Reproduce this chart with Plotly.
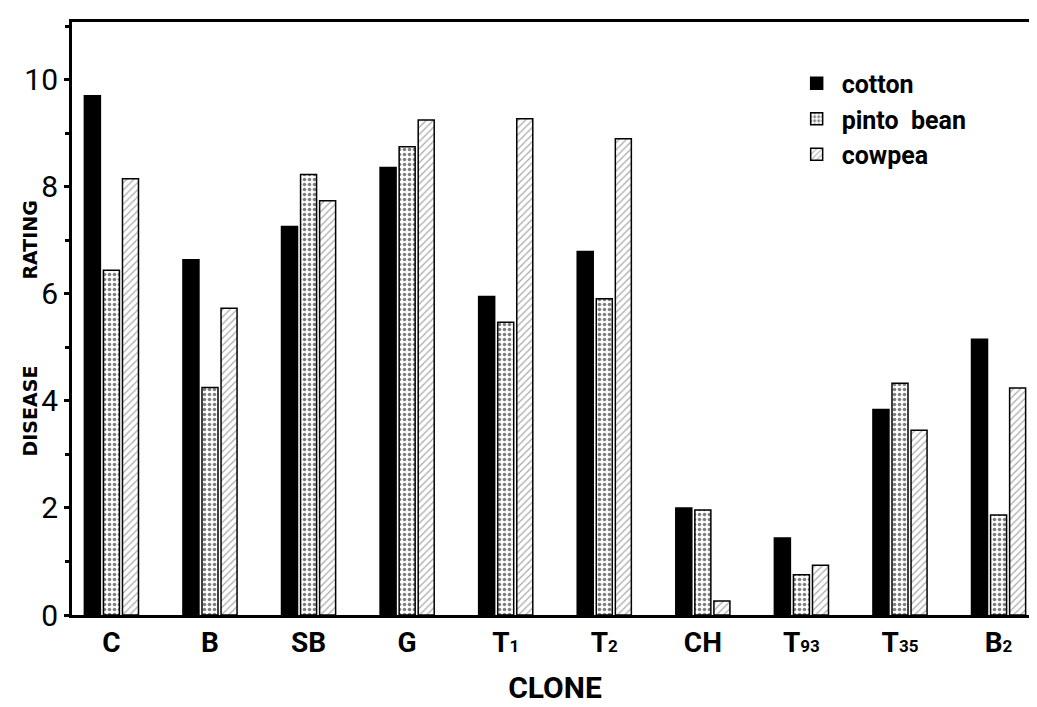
import plotly.graph_objects as go

SM = "<span style='font-size:17px'>{}</span>"
clones = ["C", "B", "SB", "G", "T" + SM.format("1"), "T" + SM.format("2"), "CH",
          "T" + SM.format("93"), "T" + SM.format("35"), "B" + SM.format("2")]
cotton = [9.70, 6.64, 7.26, 8.36, 5.95, 6.79, 2.00, 1.44, 3.84, 5.15]
pinto_bean = [6.44, 4.25, 8.23, 8.75, 5.47, 5.91, 1.96, 0.75, 4.33, 1.87]
cowpea = [8.15, 5.73, 7.74, 9.25, 9.27, 8.90, 0.26, 0.93, 3.45, 4.24]
y_ticks = [0, 2, 4, 6, 8, 10]

FONT = "Liberation Sans Narrow, Roboto, sans-serif"

fig = go.Figure()
fig.add_trace(go.Bar(
    name="cotton", x=clones, y=cotton,
    marker=dict(color="black", line=dict(color="black", width=1.5)),
))
fig.add_trace(go.Bar(
    name="pinto  bean", x=clones, y=pinto_bean,
    marker=dict(color="white", line=dict(color="black", width=1.5),
                pattern=dict(shape=".", fgcolor="black", bgcolor="white",
                             size=5, solidity=0.4)),
))
fig.add_trace(go.Bar(
    name="cowpea", x=clones, y=cowpea,
    marker=dict(color="white", line=dict(color="black", width=1.5),
                pattern=dict(shape="/", fgcolor="#555555", bgcolor="white",
                             size=5, solidity=0.25)),
))

fig.update_layout(
    width=1037, height=707,
    margin=dict(l=64, r=7, t=14, b=100),
    paper_bgcolor="white", plot_bgcolor="white",
    barmode="group", bargap=0.42, bargroupgap=0.16,
    font=dict(family=FONT, color="black"),
    showlegend=True,
    legend=dict(x=0.745, y=0.935, xanchor="left", yanchor="top",
                font=dict(family=FONT, size=25, color="black", weight="bold"),
                bgcolor="rgba(0,0,0,0)", tracegroupgap=0,
                itemwidth=40),
    xaxis=dict(
        range=[-0.40, 9.40], showline=True, linewidth=3, linecolor="black",
        mirror=True, ticks="", showgrid=False, automargin=False,
        tickfont=dict(family=FONT, size=28, color="black", weight="bold"),
        title=dict(text="CLONE", font=dict(family=FONT, size=30, color="black", weight="bold"),
                   standoff=20),
    ),
    yaxis=dict(
        range=[0, 11.08], showline=True, linewidth=3, linecolor="black",
        mirror=True, ticks="outside", ticklen=5, tickwidth=3, tickcolor="black",
        tickvals=y_ticks, ticktext=[str(v) for v in y_ticks], automargin=False,
        minor=dict(ticks="outside", dtick=1, ticklen=4, tickwidth=3, tickcolor="black"),
        showgrid=False, zeroline=False,
        tickfont=dict(family=FONT, size=30, color="black"),
    ),
)

fig.add_annotation(
    text="<b>DISEASE             RATING</b>", textangle=-90,
    xref="paper", yref="paper", x=-0.044, y=0.484, xanchor="center", yanchor="middle",
    showarrow=False, font=dict(family="DejaVu Sans, sans-serif", size=19, color="black"),
)

fig.write_html("out.html")
